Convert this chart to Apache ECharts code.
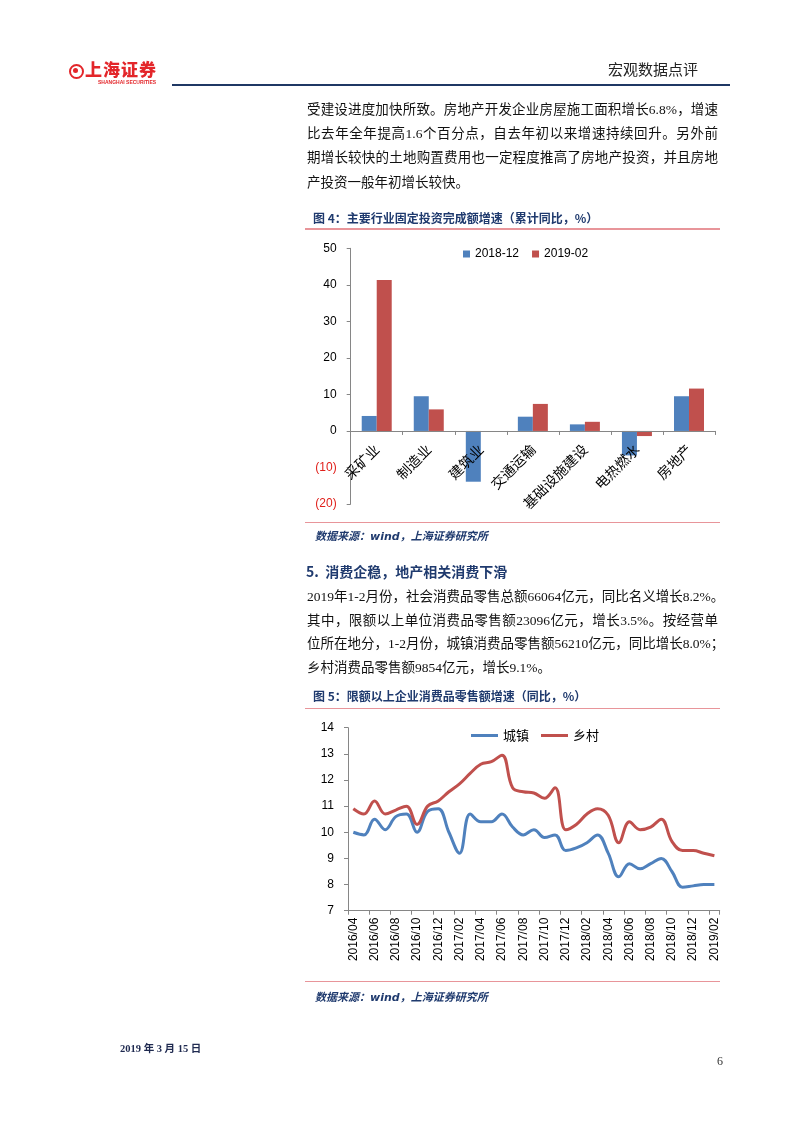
<!DOCTYPE html>
<html>
<head>
<meta charset="utf-8">
<script src="https://cdn.jsdelivr.net/npm/echarts@6/dist/echarts.min.js"></script>
<style>
  html, body { margin:0; padding:0; background:#fff; }
  body { width:802px; height:1133px; position:relative; overflow:hidden; }
  #chart { position:absolute; left:0; top:0; width:802px; height:1133px; }
  .t { position:absolute; white-space:nowrap; font-family:"Liberation Serif","Noto Sans CJK SC",serif; color:#111; }
  .body { font-size:13.5px; line-height:20px; width:411px; left:307px; text-align:justify; text-align-last:justify; }
  .last { text-align-last:left; }
  .cap { font-family:"Noto Sans CJK SC",sans-serif; font-size:12px; font-weight:700; color:#1F3A6E; line-height:16px; left:313px; }
  .src { font-family:"DejaVu Sans","Noto Sans CJK SC",sans-serif; font-size:11px; font-weight:700; font-style:italic; color:#1F3A6E; line-height:16px; left:315px; }
  .pink { position:absolute; left:305px; width:415px; height:1.5px; background:#E8959A; }
</style>
</head>
<body>
<div id="chart"></div>

<!-- header -->
<div style="position:absolute;left:69px;top:64px;width:11px;height:11px;border:2px solid #E3262A;border-radius:50%;"></div>
<div style="position:absolute;left:73px;top:68px;width:5px;height:5px;background:#E3262A;border-radius:50%;"></div>
<div class="t" style="left:85px;top:58px;font-family:'Noto Sans CJK SC';font-weight:900;font-size:17px;line-height:22px;color:#E3262A;letter-spacing:1px;">上海证券</div>
<div class="t" style="left:98px;top:79px;font-family:'Liberation Sans';font-weight:700;font-size:5px;line-height:6px;color:#E3262A;">SHANGHAI SECURITIES</div>
<div class="t" style="left:608px;top:59px;font-family:'Noto Sans CJK SC';font-size:15px;line-height:20px;color:#222;">宏观数据点评</div>
<div style="position:absolute;left:172px;top:84px;width:558px;height:2px;background:#1F3864;"></div>

<!-- paragraph 1 -->
<div class="t body" style="top:100px;">受建设进度加快所致。房地产开发企业房屋施工面积增长6.8%，增速</div>
<div class="t body" style="top:124px;">比去年全年提高1.6个百分点，自去年初以来增速持续回升。另外前</div>
<div class="t body" style="top:148px;">期增长较快的土地购置费用也一定程度推高了房地产投资，并且房地</div>
<div class="t body last" style="top:172.5px;">产投资一般年初增长较快。</div>

<div class="t cap" style="top:210px;">图 4：主要行业固定投资完成额增速（累计同比，%）</div>
<div class="pink" style="top:228px;"></div>
<div class="pink" style="top:521.5px;"></div>
<div class="t src" style="top:528.5px;">数据来源：wind，上海证券研究所</div>

<div class="t" style="left:306px;top:561px;font-family:'Noto Sans CJK SC';font-size:14px;font-weight:700;color:#1F3A6E;line-height:20px;">5.&nbsp; 消费企稳，地产相关消费下滑</div>
<div class="t body" style="top:587px;width:413px;">2019年1-2月份，社会消费品零售总额66064亿元，同比名义增长8.2%。</div>
<div class="t body" style="top:610.5px;">其中，限额以上单位消费品零售额23096亿元，增长3.5%。按经营单</div>
<div class="t body" style="top:634px;">位所在地分，1-2月份，城镇消费品零售额56210亿元，同比增长8.0%；</div>
<div class="t body last" style="top:657.5px;">乡村消费品零售额9854亿元，增长9.1%。</div>

<div class="t cap" style="top:688px;">图 5：限额以上企业消费品零售额增速（同比，%）</div>
<div class="pink" style="top:707.5px;"></div>
<div class="pink" style="top:980.5px;"></div>
<div class="t src" style="top:989.5px;">数据来源：wind，上海证券研究所</div>

<div class="t" style="left:120px;top:1042px;font-family:'Liberation Serif','Noto Sans CJK SC';font-size:10.5px;font-weight:700;color:#1F2A50;line-height:14px;">2019 年 3 月 15 日</div>
<div class="t" style="left:717px;top:1053px;font-size:12px;line-height:16px;color:#333;">6</div>

<script>
// ---- Figure 4 data ----
const barCategories = ['采矿业','制造业','建筑业','交通运输','基础设施建设','电热燃水','房地产'];
const barSeriesNames = ['2018-12','2019-02'];
const bar201812 = [4.1, 9.5, -13.9, 3.9, 1.8, -6.7, 9.5];
const bar201902 = [41.3, 5.9, null, 7.4, 2.5, -1.4, 11.6];
const barYTicks = { min: -20, max: 50, interval: 10 };

// ---- Figure 5 data ----
const months = ['2016/04','2016/05','2016/06','2016/07','2016/08','2016/09','2016/10','2016/11','2016/12',
  '2017/01','2017/02','2017/03','2017/04','2017/05','2017/06','2017/07','2017/08','2017/09','2017/10','2017/11','2017/12',
  '2018/01','2018/02','2018/03','2018/04','2018/05','2018/06','2018/07','2018/08','2018/09','2018/10','2018/11','2018/12',
  '2019/01','2019/02'];
const lineSeriesNames = ['城镇','乡村'];
const urban = [10.0, 9.9, 10.5, 10.1, 10.6, 10.7, 10.0, 10.8, 10.9,
  10.0, 9.2, 10.7, 10.4, 10.4, 10.7, 10.2, 9.9, 10.1, 9.8, 9.9, 9.3,
  9.4, 9.6, 9.9, 9.2, 8.3, 8.8, 8.6, 8.8, 9.0, 8.5, 7.9, 7.95,
  8.0, 8.0];
const rural = [10.9, 10.7, 11.2, 10.7, 10.85, 11.0, 10.3, 11.0, 11.2,
  11.55, 11.85, 12.25, 12.6, 12.7, 12.95, 11.7, 11.55, 11.5, 11.3, 11.7, 10.1,
  10.3, 10.7, 10.9, 10.65, 9.6, 10.4, 10.1, 10.2, 10.5, 9.65, 9.3, 9.3,
  9.2, 9.1];
const lineYTicks = { min: 7, max: 14, interval: 1 };

const BLUE = '#4F81BD', RED = '#C0504D', AXIS = '#868686';
const numFont = 'Liberation Sans';

// bar grid geometry (pixels)
const barGrid = { left: 350.7, top: 248.3, width: 364.3, height: 255.7 };
// distance from the grid bottom (axis min) up to the value 0
const zeroOffset = barGrid.height * (0 - barYTicks.min) / (barYTicks.max - barYTicks.min);

const chart = echarts.init(document.getElementById('chart'), null, { renderer: 'canvas' });
chart.setOption({
  animation: false,
  grid: [
    barGrid,
    { left: 348, top: 727.7, width: 371.7, height: 183 }
  ],
  legend: [
    { data: barSeriesNames, left: 458, top: 243, icon: 'rect', itemWidth: 7, itemHeight: 7, itemGap: 13,
      textStyle: { fontFamily: numFont, fontSize: 12, color: '#000' } },
    { data: lineSeriesNames, left: 466, top: 724, icon: 'rect', itemWidth: 27, itemHeight: 3, itemGap: 12,
      textStyle: { fontFamily: 'Noto Sans CJK SC', fontSize: 13, color: '#000' } }
  ],
  xAxis: [
    { type: 'category', gridIndex: 0, data: barCategories, z: 10, position: 'bottom', offset: -zeroOffset,
      axisLine: { onZero: false, lineStyle: { color: AXIS } },
      axisTick: { show: true, length: 4, lineStyle: { color: AXIS } },
      axisLabel: { interval: 0, rotate: 45, margin: 16, fontFamily: 'Noto Sans CJK SC', fontSize: 14, color: '#000' },
      splitLine: { show: false } },
    { type: 'category', gridIndex: 1, data: months, boundaryGap: true,
      axisLine: { lineStyle: { color: AXIS } },
      axisTick: { show: true, interval: 1, length: 4, lineStyle: { color: AXIS } },
      axisLabel: { interval: 1, rotate: 90, margin: 7, fontFamily: numFont, fontSize: 12, color: '#000' },
      splitLine: { show: false } }
  ],
  yAxis: [
    { type: 'value', gridIndex: 0, min: barYTicks.min, max: barYTicks.max, interval: barYTicks.interval,
      axisLine: { show: true, lineStyle: { color: AXIS } },
      axisTick: { show: true, length: 4, lineStyle: { color: AXIS } },
      splitLine: { show: false },
      axisLabel: { margin: 14, fontFamily: numFont, fontSize: 12,
        formatter: v => v < 0 ? '(' + (-v) + ')' : String(v),
        color: v => (Number(v) < 0 ? '#E0201B' : '#000') } },
    { type: 'value', gridIndex: 1, min: lineYTicks.min, max: lineYTicks.max, interval: lineYTicks.interval,
      axisLine: { show: true, lineStyle: { color: AXIS } },
      axisTick: { show: true, length: 4, lineStyle: { color: AXIS } },
      splitLine: { show: false },
      axisLabel: { margin: 14, fontFamily: numFont, fontSize: 12, color: '#000' } }
  ],
  series: [
    { name: barSeriesNames[0], type: 'bar', xAxisIndex: 0, yAxisIndex: 0, data: bar201812,
      barWidth: 15, barGap: '0%', itemStyle: { color: BLUE } },
    { name: barSeriesNames[1], type: 'bar', xAxisIndex: 0, yAxisIndex: 0, data: bar201902,
      barWidth: 15, barGap: '0%', itemStyle: { color: RED } },
    { name: lineSeriesNames[0], type: 'line', xAxisIndex: 1, yAxisIndex: 1, data: urban,
      smooth: 0.4, showSymbol: false, symbol: 'none', itemStyle: { color: BLUE },
      lineStyle: { color: BLUE, width: 3 } },
    { name: lineSeriesNames[1], type: 'line', xAxisIndex: 1, yAxisIndex: 1, data: rural,
      smooth: 0.4, showSymbol: false, symbol: 'none', itemStyle: { color: RED },
      lineStyle: { color: RED, width: 3 } }
  ]
});
</script>
</body>
</html>
